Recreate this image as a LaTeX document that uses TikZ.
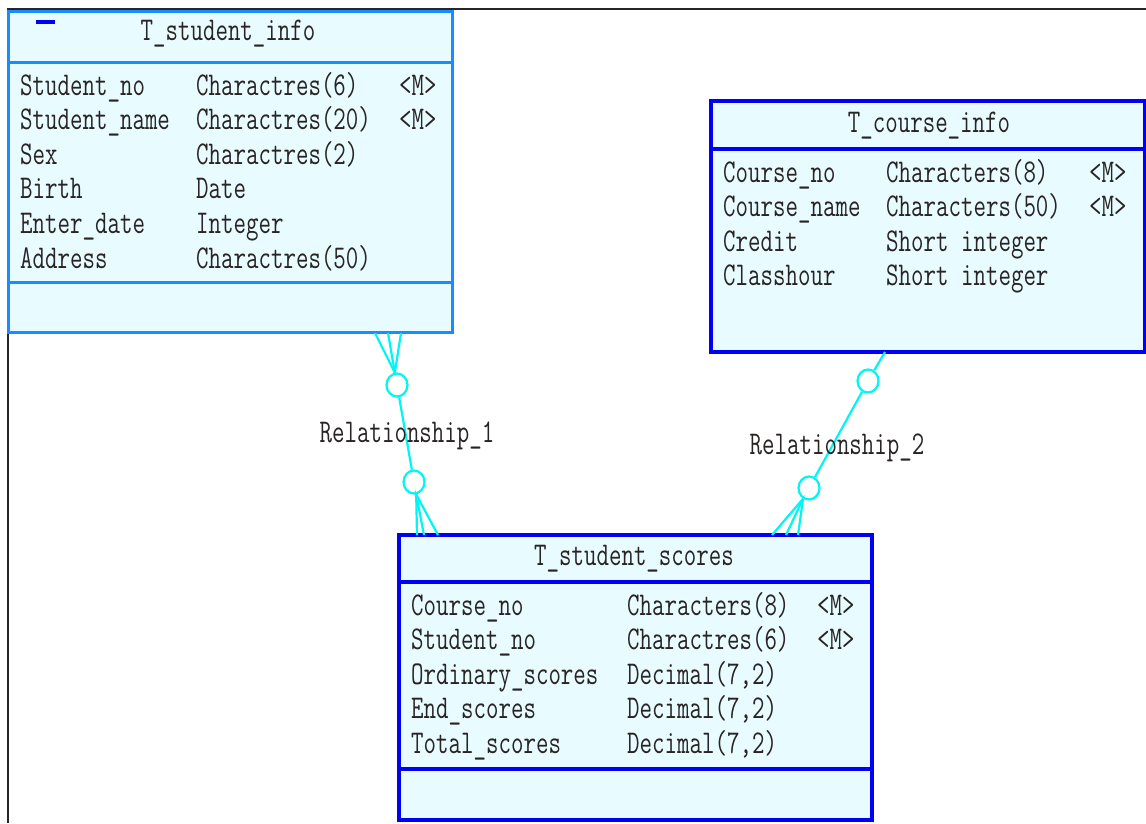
\documentclass[tikz,border=0pt]{standalone}
\usepackage{fontspec}
\setmonofont{Latin Modern Mono}[FakeStretch=0.73]
\usetikzlibrary{shapes.geometric}
\definecolor{infoblue}{RGB}{25,140,255}
\definecolor{tblue}{RGB}{0,0,245}
\definecolor{tfill}{RGB}{232,252,255}
\definecolor{relcyan}{RGB}{0,245,245}
\definecolor{ink}{RGB}{40,36,36}
\tikzset{
	tbl/.style={draw=tblue, fill=tfill, line width=3.5pt, inner sep=0pt},
	sep/.style={tblue, line width=3.5pt},
	cell/.style={inner sep=0pt, anchor=base west, text=ink, font=\ttfamily\fontsize{33.2}{35}\selectfont},
	rel/.style={relcyan, line width=2.2pt},
	ring/.style={ellipse, draw=relcyan, fill=white, line width=2.2pt, minimum width=21pt, minimum height=23pt, inner sep=0pt}
}

\begin{document}
\begin{tikzpicture}[x=1pt, y=-1pt]
				%%%%% START %%%%%
				\useasboundingbox (0,0) rectangle (1146,823);
				\draw[black!85, line width=1.3pt] (8,823) -- (8,9) -- (1146,9);
				
				% T_student_info
				\node[tbl, draw=infoblue, line width=3pt, minimum width=444pt, minimum height=321pt] (info) at (230.75,171.5) {};
				\draw[sep, infoblue, line width=3pt] (info.west |- 0,62) -- (info.east |- 0,62);
				\draw[sep, infoblue, line width=3pt] (info.west |- 0,282) -- (info.east |- 0,282);
				\draw[tblue, line width=4pt] (36,22) -- (55,22);
				\node[cell, anchor=base] (info-title) at (228,40) {T\_student\_info};
				\foreach \nm/\ty/\k [count=\i] in {Student\_no/Charactres(6)/<M>, Student\_name/Charactres(20)/<M>, Sex/Charactres(2)/{}, Birth/Date/{}, Enter\_date/Integer/{}, Address/Charactres(50)/{}}{
					\node[cell] (info-a\i) at (20, 60.4+34.6*\i) {\nm};
					\node[cell] (info-t\i) at (196, 60.4+34.6*\i) {\ty};
					\node[cell] (info-k\i) at (399, 60.4+34.6*\i) {\k};
				}
				
				% T_course_info
				\node[tbl, minimum width=434pt, minimum height=251pt] (course) at (928,226.5) {};
				\draw[sep] (course.west |- 0,149) -- (course.east |- 0,149);
				\node[cell, anchor=base] (course-title) at (929,132) {T\_course\_info};
				\foreach \nm/\ty/\k [count=\i] in {Course\_no/Characters(8)/<M>, Course\_name/Characters(50)/<M>, Credit/Short integer/{}, Classhour/Short integer/{}}{
					\node[cell] (course-a\i) at (723, 147.4+34.6*\i) {\nm};
					\node[cell] (course-t\i) at (886, 147.4+34.6*\i) {\ty};
					\node[cell] (course-k\i) at (1089, 147.4+34.6*\i) {\k};
				}
				
				% T_student_scores
				\node[tbl, minimum width=473pt, minimum height=285pt] (scores) at (635.5,677.5) {};
				\draw[sep] (scores.west |- 0,582) -- (scores.east |- 0,582);
				\draw[sep] (scores.west |- 0,769) -- (scores.east |- 0,769);
				\node[cell, anchor=base] (scores-title) at (634,565) {T\_student\_scores};
				\foreach \nm/\ty/\k [count=\i] in {Course\_no/Characters(8)/<M>, Student\_no/Charactres(6)/<M>, Ordinary\_scores/{Decimal(7,2)}/{}, End\_scores/{Decimal(7,2)}/{}, Total\_scores/{Decimal(7,2)}/{}}{
					\node[cell] (scores-a\i) at (411, 580.4+34.6*\i) {\nm};
					\node[cell] (scores-t\i) at (627, 580.4+34.6*\i) {\ty};
					\node[cell] (scores-k\i) at (817, 580.4+34.6*\i) {\k};
				}
				
				% Relationship_1
				\coordinate (p1) at (375,333);
				\coordinate (p2) at (388,333);
				\coordinate (p3) at (401,333);
				\coordinate (p4) at (417,535);
				\coordinate (p5) at (424,535);
				\coordinate (p6) at (438,535);
				\node[ring] (r1a) at (397,385) {};
				\node[ring] (r1b) at (414,482) {};
				\draw[rel] (r1a) -- (r1b);
				\draw[rel] (p1) -- (r1a.100) -- (p3);
				\draw[rel] (p2) -- (r1a.100);
				\draw[rel] (p4) -- (r1b.-80) -- (p6);
				\draw[rel] (p5) -- (r1b.-80);
				\node[cell, anchor=base] (rel1) at (407,442) {Relationship\_1};
				
				% Relationship_2
				\coordinate (q0) at (885,352);
				\coordinate (q1) at (772,535);
				\coordinate (q2) at (786,535);
				\coordinate (q3) at (798,535);
				\node[ring] (r2a) at (868,381) {};
				\node[ring] (r2b) at (809,488) {};
				\draw[rel] (q0) -- (r2a);
				\draw[rel] (r2a) -- (r2b);
				\draw[rel] (q1) -- (r2b.-119) -- (q3);
				\draw[rel] (q2) -- (r2b.-119);
				\node[cell, anchor=base] (rel2) at (837,454) {Relationship\_2};
				%%%%% END %%%%%
\end{tikzpicture}
\end{document}
